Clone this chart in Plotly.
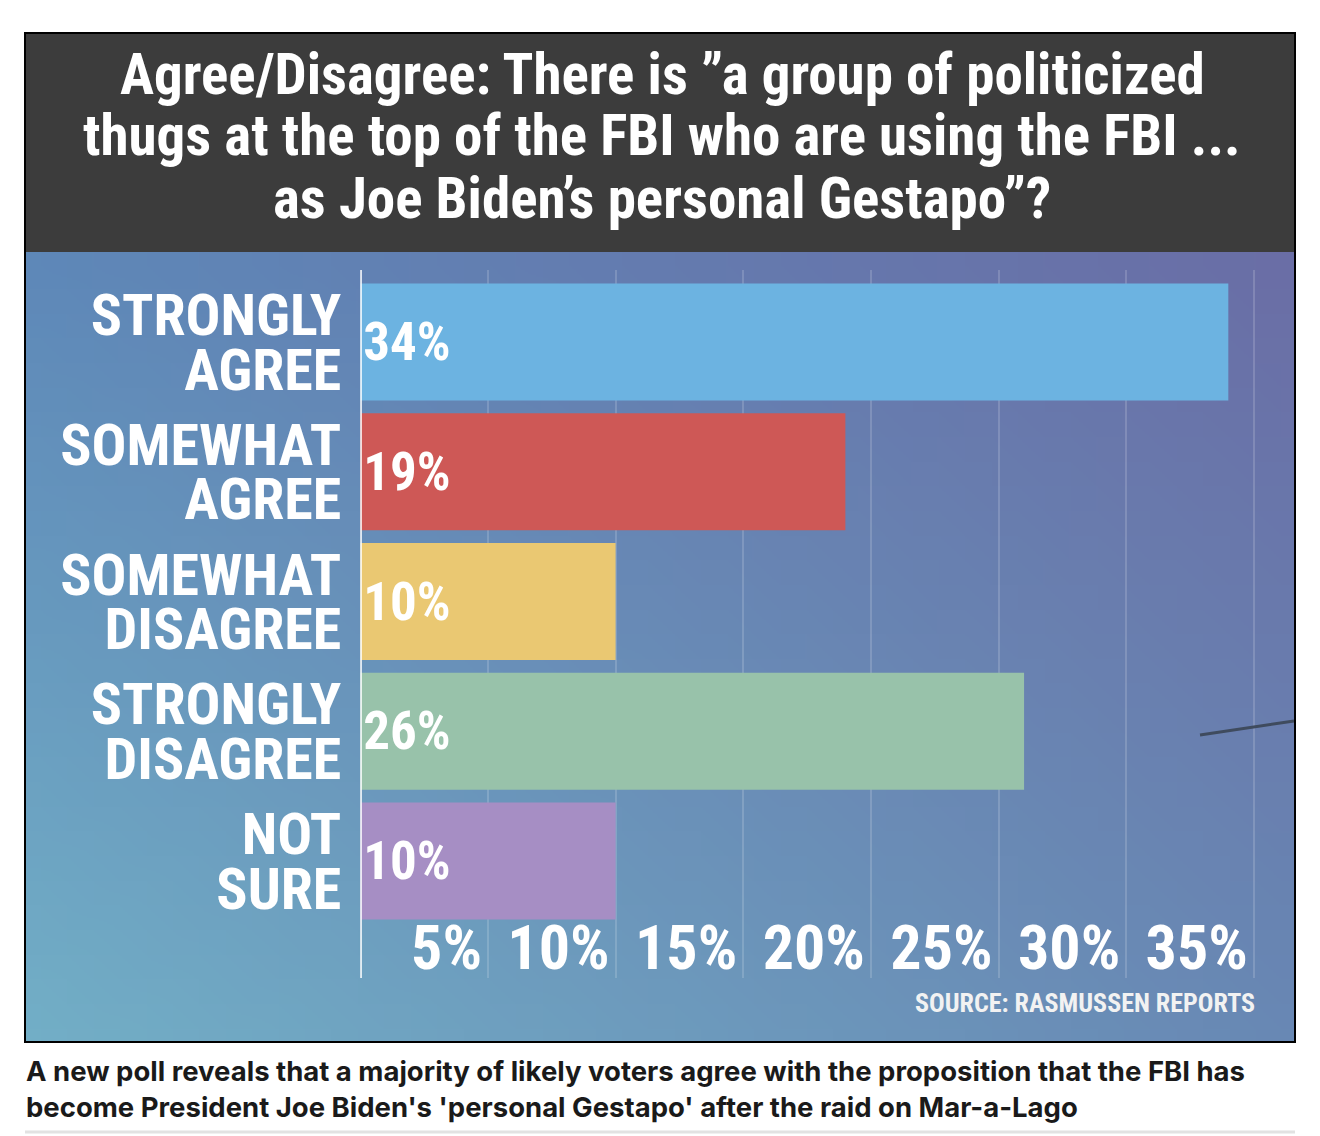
import base64
import struct
import zlib

import plotly.graph_objects as go

# ---------------- data ----------------
categories = ["STRONGLY AGREE", "SOMEWHAT AGREE", "SOMEWHAT DISAGREE", "STRONGLY DISAGREE", "NOT SURE"]
values = [34, 19, 10, 26, 10]
bar_colors = ["#6cb3e1", "#ce5856", "#eac872", "#98c2aa", "#a68ec4"]
x_ticks = [5, 10, 15, 20, 25, 30, 35]
x_tick_labels = [f"{v}%" for v in x_ticks]
title_lines = [
    "Agree/Disagree: There is \u201da group of politicized",
    "thugs at the top of the FBI who are using the FBI ...",
    "as Joe Biden\u2019s personal Gestapo\u201d?",
]
source_text = "SOURCE: RASMUSSEN REPORTS"
caption_lines = [
    "A new poll reveals that a majority of likely voters agree with the proposition that the FBI has",
    "become President Joe Biden's 'personal Gestapo' after the raid on Mar-a-Lago",
]

# the page body has an 8px margin: figure is offset by 8px in the window
OFF = 8
W, H = 1320 - OFF, 1136 - OFF
HEAD = "Roboto Condensed"


def px(xpix):
    return (xpix - OFF) / W


def py(ypix):
    return 1 - (ypix - OFF) / H


# ---------------- background gradient image (pure python PNG) ----------------
def gradient_png(w, h, tl, tr, bl, br):
    rows = []
    for j in range(h):
        v = j / (h - 1)
        row = bytearray([0])
        for i in range(w):
            u = i / (w - 1)
            for c in range(3):
                top = tl[c] * (1 - u) + tr[c] * u
                bot = bl[c] * (1 - u) + br[c] * u
                row.append(int(round(top * (1 - v) + bot * v)))
        rows.append(bytes(row))
    raw = b"".join(rows)

    def chunk(tag, data):
        c = struct.pack(">I", len(data)) + tag + data
        return c + struct.pack(">I", zlib.crc32(tag + data) & 0xFFFFFFFF)

    png = b"\x89PNG\r\n\x1a\n"
    png += chunk(b"IHDR", struct.pack(">IIBBBBB", w, h, 8, 2, 0, 0, 0))
    png += chunk(b"IDAT", zlib.compress(raw, 9))
    png += chunk(b"IEND", b"")
    return "data:image/png;base64," + base64.b64encode(png).decode()


bg_src = gradient_png(48, 32, (94, 136, 184), (106, 110, 166), (114, 174, 198), (104, 136, 180))

# ---------------- figure ----------------
y_pos = list(range(len(categories)))
tickvals, ticktext = [], []
for i, cat in enumerate(categories):
    words = cat.split(" ")
    tickvals += [i - 0.21, i + 0.21]
    ticktext += words

fig = go.Figure(
    go.Bar(
        x=values,
        y=y_pos,
        orientation="h",
        width=0.9,
        marker=dict(color=bar_colors, line=dict(width=0)),
        text=[f"{v}%" for v in values],
        textposition="inside",
        insidetextanchor="start",
        textangle=0,
        textfont=dict(family=HEAD, size=53, color="white", weight=700),
        hoverinfo="skip",
    )
)

x0_pix, x1_pix = 360.3, 1294.0
px_per_unit = 25.53
y_top_pix, y_bot_pix = 270.0, 978.0
cat0_pix, cat_step = 342.0, 129.75

fig.update_xaxes(
    domain=[px(x0_pix), px(x1_pix)],
    range=[0, (x1_pix - x0_pix) / px_per_unit],
    tickvals=x_ticks,
    ticktext=x_tick_labels,
    ticklabelposition="inside left",
    ticklabelshift=-6,
    ticklabelstandoff=-9,
    tickfont=dict(family=HEAD, size=62, color="white", weight=700),
    showgrid=True,
    gridcolor="rgba(255,255,255,0.16)",
    gridwidth=2,
    zeroline=False,
    showline=False,
    ticks="",
    fixedrange=True,
)
fig.update_yaxes(
    domain=[py(y_bot_pix), py(y_top_pix)],
    range=[(y_bot_pix - cat0_pix) / cat_step, (y_top_pix - cat0_pix) / cat_step],
    tickvals=tickvals,
    ticktext=ticktext,
    tickfont=dict(family=HEAD, size=58, color="white", weight=700),
    ticks="",
    ticklabelstandoff=18,
    showgrid=False,
    zeroline=False,
    showline=False,
    fixedrange=True,
)

shapes = [
    # dark title band
    dict(type="rect", xref="paper", yref="paper", x0=px(25), x1=px(1295), y0=py(252), y1=py(33),
         fillcolor="#3c3c3c", line=dict(width=0), layer="below"),
    # vertical axis line
    dict(type="line", xref="x", yref="paper", x0=0, x1=0, y0=py(y_bot_pix), y1=py(y_top_pix),
         line=dict(color="white", width=3), layer="above"),
    # stray dark line in the background photo
    dict(type="line", xref="paper", yref="paper", x0=px(1200), x1=px(1294), y0=py(735), y1=py(721),
         line=dict(color="#3f4b5e", width=3), layer="above"),
    # black frame
    dict(type="rect", xref="paper", yref="paper", x0=px(25), x1=px(1295), y0=py(1042), y1=py(33),
         line=dict(color="black", width=2), fillcolor="rgba(0,0,0,0)", layer="above"),
    # page separator
    dict(type="line", xref="paper", yref="paper", x0=px(25), x1=px(1295), y0=py(1132), y1=py(1132),
         line=dict(color="#e2e2e2", width=3), layer="above"),
]

annotations = []
for k, line in enumerate(title_lines):
    annotations.append(dict(
        text=line, xref="paper", yref="paper", x=px(662), y=py(74 + 62 * k),
        xanchor="center", yanchor="middle", showarrow=False,
        font=dict(family=HEAD, size=57, color="white", weight=700),
    ))
annotations.append(dict(
    text=source_text, xref="paper", yref="paper", x=px(1257), y=py(1003),
    xanchor="right", yanchor="middle", showarrow=False,
    font=dict(family=HEAD, size=26, color="#f2f2f2", weight=700),
))
for k, line in enumerate(caption_lines):
    annotations.append(dict(
        text=line, xref="paper", yref="paper", x=px(24), y=py(1071 + 36 * k),
        xanchor="left", yanchor="middle", showarrow=False,
        font=dict(family="Inter", size=27.5, color="#1a1a1a", weight=700),
    ))

fig.update_layout(
    width=W,
    height=H,
    margin=dict(l=0, r=0, t=0, b=0),
    paper_bgcolor="white",
    plot_bgcolor="rgba(0,0,0,0)",
    showlegend=False,
    bargap=0.1,
    shapes=shapes,
    annotations=annotations,
    images=[dict(source=bg_src, xref="paper", yref="paper", x=px(26), y=py(252),
                 sizex=(1294 - 26) / W, sizey=(1041 - 252) / H, sizing="stretch",
                 xanchor="left", yanchor="top", layer="below")],
)

fig.write_html("out.html")
